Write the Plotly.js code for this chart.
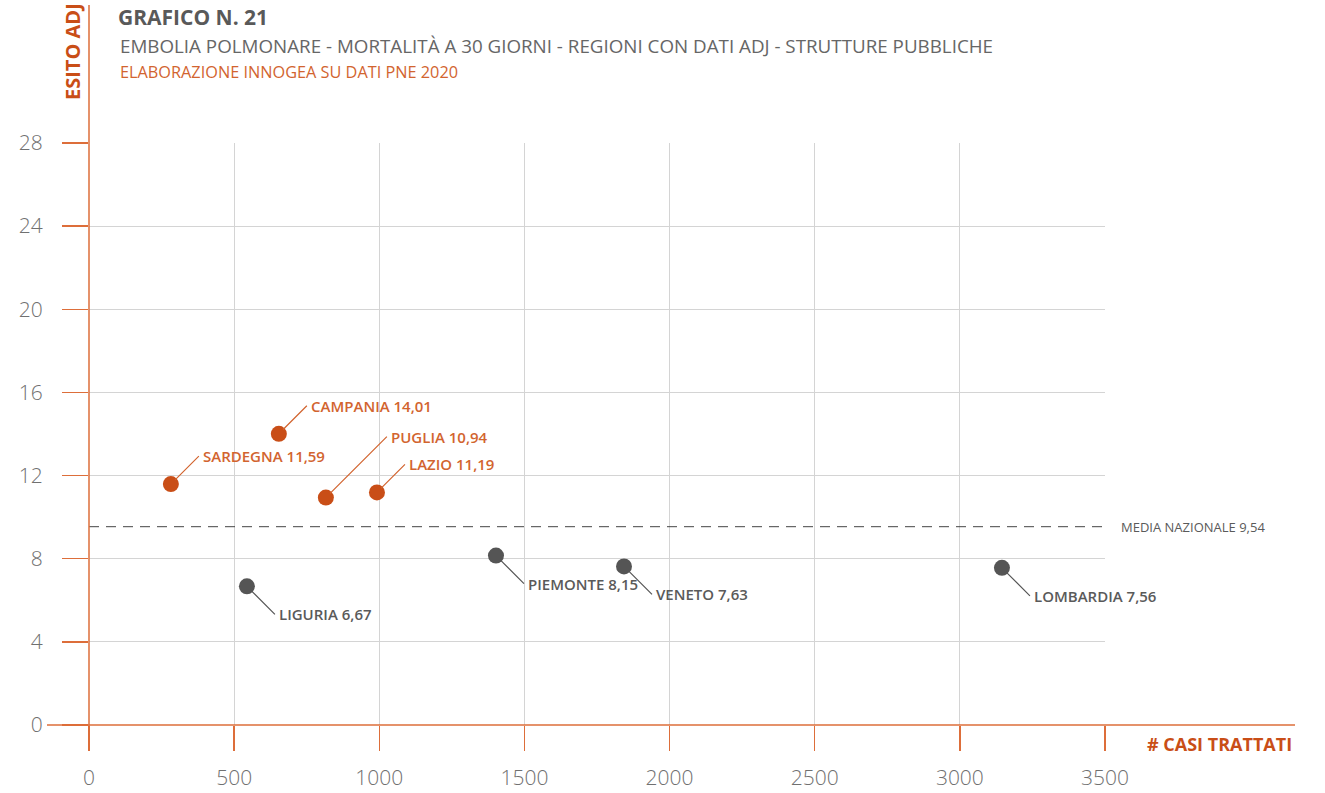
<!DOCTYPE html>
<html>
<head>
<meta charset="utf-8">
<script src="https://cdn.plot.ly/plotly-3.0.1.min.js"></script>
<style>html,body{margin:0;padding:0;background:#fff;}#chart{width:1325px;height:793px;}</style>
</head>
<body>
<div id="chart"></div>
<script>
// ---- data ----
const regions = ["SARDEGNA", "CAMPANIA", "PUGLIA", "LAZIO", "LIGURIA", "PIEMONTE", "VENETO", "LOMBARDIA"];
const casiTrattati = [282, 654, 816, 992, 544, 1402, 1843, 3145];
const esitoAdj = [11.59, 14.01, 10.94, 11.19, 6.67, 8.15, 7.63, 7.56];
const mediaNazionale = 9.54;
const xTicks = [0, 500, 1000, 1500, 2000, 2500, 3000, 3500];
const yTicks = [0, 4, 8, 12, 16, 20, 24, 28];

// ---- style ----
const ORANGE_PT = "#C94E17";
const ORANGE_TXT = "#D2642F";
const ORANGE_AX = "#DD6E3A";
const GRAY_PT = "#555555";
const GRAY_TXT = "#5A5A5A";
const FONT = "Open Sans, sans-serif";

const above = esitoAdj.map(v => v > mediaNazionale);
const colors = above.map(a => a ? ORANGE_PT : GRAY_PT);
// label leader offsets (pixels)
const leaderLen = regions.map(r => r === "PUGLIA" ? 61 : 28);

const fmt = v => v.toFixed(2).replace(".", ",");

const W = 1325, H = 793, L = 89, R = 220, T = 143, B = 68;
const pw = W - L - R, ph = H - T - B;
const px = v => (v - L) / pw;
const py = v => (H - B - v) / ph;

const traces = [
  {
    type: "scatter", mode: "lines",
    x: [xTicks[0], xTicks[xTicks.length - 1]],
    y: [mediaNazionale, mediaNazionale],
    line: {color: "#444444", width: 1, dash: "10px,7px"},
    hoverinfo: "skip", showlegend: false
  },
  {
    type: "scatter", mode: "markers",
    x: casiTrattati, y: esitoAdj, text: regions,
    marker: {size: 16, color: colors},
    showlegend: false, cliponaxis: false
  }
];

const annotations = regions.map((r, i) => ({
  x: casiTrattati[i], y: esitoAdj[i], xref: "x", yref: "y",
  text: r + " " + fmt(esitoAdj[i]),
  showarrow: true, arrowhead: 0, arrowwidth: 1.2,
  arrowcolor: above[i] ? ORANGE_TXT : GRAY_PT,
  ax: leaderLen[i], ay: above[i] ? -leaderLen[i] : leaderLen[i],
  xanchor: "left", yanchor: "middle", standoff: 6, borderpad: 3,
  font: {family: FONT, size: 15, color: above[i] ? ORANGE_TXT : GRAY_TXT, weight: 600}
}));

annotations.push({
  x: 1, xref: "paper", y: mediaNazionale, yref: "y",
  text: "MEDIA NAZIONALE " + fmt(mediaNazionale),
  showarrow: false, xanchor: "left", yanchor: "middle", xshift: 14,
  font: {family: FONT, size: 13, color: GRAY_TXT}
});
annotations.push({
  x: px(73), xref: "paper", y: py(52), yref: "paper",
  xanchor: "center", yanchor: "middle",
  text: "<b>ESITO ADJ</b>", showarrow: false, textangle: -90,
  font: {family: FONT, size: 20, color: ORANGE_PT}
});
annotations.push({
  xref: "paper", yref: "paper", x: px(118), y: py(46), xanchor: "left", yanchor: "middle",
  text: "EMBOLIA POLMONARE - MORTALITÀ A 30 GIORNI - REGIONI CON DATI ADJ - STRUTTURE PUBBLICHE",
  showarrow: false, font: {family: FONT, size: 18.8, color: "#666666"}
});
annotations.push({
  xref: "paper", yref: "paper", x: px(118), y: py(72), xanchor: "left", yanchor: "middle",
  text: "ELABORAZIONE INNOGEA SU DATI PNE 2020",
  showarrow: false, font: {family: FONT, size: 16.3, color: ORANGE_TXT}
});
annotations.push({
  xref: "paper", yref: "paper", x: px(1294), y: py(744), xanchor: "right", yanchor: "middle",
  text: "<b># CASI TRATTATI</b>",
  showarrow: false, font: {family: FONT, size: 18, color: ORANGE_PT}
});

const shapes = [
  {type: "line", xref: "paper", yref: "paper", x0: 0, x1: 0, y0: py(750), y1: py(5),
   line: {color: ORANGE_AX, width: 1.5}, layer: "above"},
  {type: "line", xref: "paper", yref: "paper", x0: px(47), x1: px(1295), y0: 0, y1: 0,
   line: {color: ORANGE_AX, width: 1.5}, layer: "above"}
];

const layout = {
  width: W, height: H,
  margin: {l: L, r: R, t: T, b: B, pad: 0},
  paper_bgcolor: "#ffffff", plot_bgcolor: "#ffffff",
  showlegend: false,
  title: {
    text: "<b>GRAFICO N. 21</b>", xref: "container", yref: "container",
    x: 118 / W, xanchor: "left", y: 1 - 18 / H, yanchor: "middle",
    font: {family: FONT, size: 21, color: "#595959"}
  },
  xaxis: {
    range: [0, 3500], tickvals: xTicks, ticktext: xTicks.map(String),
    showgrid: true, gridcolor: "#d4d4d4", gridwidth: 1,
    zeroline: false, showline: false,
    ticks: "outside", ticklen: 25, tickcolor: ORANGE_AX, tickwidth: 1.5,
    ticklabelstandoff: 9,
    tickfont: {family: FONT, size: 21, color: "#707070", weight: 300}
  },
  yaxis: {
    range: [0, 28], tickvals: yTicks, ticktext: yTicks.map(String),
    showgrid: true, gridcolor: "#d4d4d4", gridwidth: 1,
    zeroline: false, showline: false,
    ticks: "outside", ticklen: 26, tickcolor: ORANGE_AX, tickwidth: 1.5,
    ticklabelstandoff: 15,
    tickfont: {family: FONT, size: 21, color: "#707070", weight: 300}
  },
  annotations: annotations,
  shapes: shapes
};

Plotly.newPlot("chart", traces, layout, {displayModeBar: false, staticPlot: true});
</script>
</body>
</html>
